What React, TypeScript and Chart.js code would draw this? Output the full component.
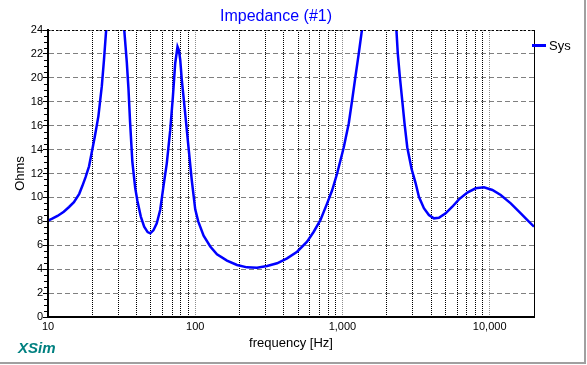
import { useEffect, useRef } from 'react';
import { Chart, registerables } from 'chart.js';

Chart.register(...registerables);

// ---- data ----
const frequencies = [
  10, 10.6, 11.6, 12.8, 13.9, 15.0, 16.3, 17.1, 18.0, 19.0, 20.0, 20.8, 22.0, 23.2, 24.0, 24.8,
  26.0, 28.0, 30.0, 32.0, 33.0, 34.3, 35.2, 36.1, 37.4, 39.1, 40.5, 42.7, 45.0, 47.5, 49.5, 52.0,
  54.8, 57.8, 60.8, 64.1, 67.6, 70.5, 73.1, 75.8, 77.5, 79.1, 81.1, 85.5, 90.0, 94.8, 100, 104.8,
  114, 126.5, 140.5, 164.3, 192.2, 224.8, 263, 307.6, 359.7, 420.7, 492, 575, 638, 708, 787, 851,
  920, 1021, 1104, 1164, 1225, 1291, 1346, 1500, 1800, 2100, 2328, 2376, 2453, 2545, 2640, 2755,
  2946, 3139, 3306, 3574, 3865, 4180, 4520, 5020, 5575, 6185, 7050, 8030, 9150, 10430, 11880,
  13900, 16260, 18040, 20000,
];
const impedance = [
  8.05, 8.2, 8.45, 8.8, 9.2, 9.6, 10.3, 10.95, 11.7, 12.6, 14.0, 15.1, 16.8, 19.3, 21.5, 23.9,
  28, 33, 31, 26.5, 23.9, 21.3, 19.1, 16.3, 13.0, 10.8, 9.7, 8.4, 7.55, 7.1, 7.0, 7.25,
  7.83, 8.95, 10.9, 12.85, 15.6, 18.4, 21.2, 22.6, 22.3, 21.5, 19.8, 17.0, 14.2, 11.4, 9.0, 8.0,
  6.8, 5.9, 5.25, 4.72, 4.35, 4.15, 4.12, 4.26, 4.49, 4.9, 5.46, 6.3, 7.13, 8.1, 9.5, 10.6,
  12.0, 14.2, 16.2, 18.15, 20.1, 22.05, 23.7, 28, 31, 28, 23.9, 22.05, 20.1, 18.15, 16.2, 14.2,
  12.4, 11.2, 10.05, 9.1, 8.53, 8.25, 8.3, 8.67, 9.22, 9.84, 10.4, 10.76, 10.85, 10.62, 10.2,
  9.5, 8.67, 8.1, 7.55,
];
const seriesLabel = 'Sys';
const chartTitle = 'Impedance (#1)';
const xTitle = 'frequency [Hz]';
const yTitle = 'Ohms';
const brandText = 'XSim';
const xMin = 10;
const xMax = 20000;
const yMin = 0;
const yMax = 24;
const yStep = 2;
const yMinorStep = 0.5;
const xLabelValues = [10, 100, 1000, 10000];
const xLabelTexts = ['10', '100', '1,000', '10,000'];
const xGridValues = [
  10, 20, 30, 40, 50, 60, 70, 80, 90,
  100, 200, 300, 400, 500, 600, 700, 800, 900,
  1000, 2000, 3000, 4000, 5000, 6000, 7000, 8000, 9000,
  10000, 20000,
];

const FONT = '"Liberation Sans", Arial, sans-serif';
const LINE_BLUE = '#0000ff';

const isDecade = (v: number | undefined) => {
  if (!v) return false;
  const l = Math.log10(v);
  return Math.abs(l - Math.round(l)) < 1e-9;
};

export default function App() {
  const ref = useRef<HTMLCanvasElement>(null);

  useEffect(() => {
    document.body.style.margin = '0';
    const canvas = ref.current;
    if (!canvas) return;

    const decorations = {
      id: 'decorations',
      afterDraw(chart: any) {
        const { ctx, chartArea: a, scales } = chart;
        ctx.save();
        // top border (dotted black) and right border (solid)
        ctx.strokeStyle = '#000';
        ctx.lineWidth = 1;
        ctx.setLineDash([2, 2]);
        ctx.beginPath();
        ctx.moveTo(a.left, a.top + 0.5);
        ctx.lineTo(a.right, a.top + 0.5);
        ctx.stroke();
        ctx.setLineDash([]);
        ctx.beginPath();
        ctx.moveTo(a.right + 0.5, a.top);
        ctx.lineTo(a.right + 0.5, a.bottom + 1);
        ctx.stroke();

        // minor ticks on the y axis
        const ys = scales.y;
        ctx.beginPath();
        for (let v = ys.min + yMinorStep; v < ys.max; v += yMinorStep) {
          if (Math.abs(v / yStep - Math.round(v / yStep)) < 1e-9) continue;
          const py = Math.round(ys.getPixelForValue(v)) + 0.5;
          ctx.moveTo(a.left - 4, py);
          ctx.lineTo(a.left, py);
        }
        ctx.stroke();

        // legend
        const ds = chart.data.datasets[0];
        ctx.strokeStyle = ds.borderColor;
        ctx.lineWidth = 3;
        ctx.beginPath();
        ctx.moveTo(532, 45.5);
        ctx.lineTo(546, 45.5);
        ctx.stroke();
        ctx.fillStyle = '#000';
        ctx.font = `13px ${FONT}`;
        ctx.textAlign = 'left';
        ctx.textBaseline = 'middle';
        ctx.fillText(ds.label, 549, 46);

        // title
        ctx.fillStyle = '#0000ff';
        ctx.font = `16px ${FONT}`;
        ctx.textAlign = 'center';
        ctx.textBaseline = 'middle';
        ctx.fillText(chartTitle, 276, 17);

        // brand
        ctx.fillStyle = '#008080';
        ctx.font = `italic bold 15px ${FONT}`;
        ctx.textAlign = 'left';
        ctx.textBaseline = 'alphabetic';
        ctx.fillText(brandText, 18, 353);

        // window frame (right and bottom)
        ctx.fillStyle = '#a0a0a0';
        ctx.fillRect(584, 0, 2, 364);
        ctx.fillRect(0, 362, 586, 2);
        ctx.restore();
      },
    };

    const chart = new Chart(canvas, {
      type: 'line',
      data: {
        datasets: [
          {
            label: seriesLabel,
            data: frequencies.map((f, i) => ({ x: f, y: impedance[i] })),
            borderColor: LINE_BLUE,
            borderWidth: 2.5,
            pointRadius: 0,
            tension: 0,
            clip: 0,
          } as any,
        ],
      },
      options: {
        responsive: false,
        animation: false,
        layout: { padding: { top: 30, right: 53, left: 0, bottom: 0 } },
        plugins: {
          legend: { display: false },
          title: { display: false },
          tooltip: { enabled: false },
        },
        scales: {
          x: {
            type: 'logarithmic',
            min: xMin,
            max: xMax,
            afterBuildTicks: (s: any) => {
              s.ticks = xGridValues.map((v) => ({ value: v, major: isDecade(v) }));
            },
            afterFit: (s: any) => {
              s.height = 48;
            },
            ticks: {
              autoSkip: false,
              maxRotation: 0,
              minRotation: 0,
              padding: 3,
              color: '#000',
              font: { family: FONT, size: 11 },
              callback: (v: any) => {
                const i = xLabelValues.indexOf(Number(v));
                return i >= 0 ? xLabelTexts[i] : '';
              },
            },
            grid: {
              drawTicks: false,
              lineWidth: 1,
              color: (c: any) => (isDecade(c.tick?.value) ? '#8c8c8c' : '#000000'),
            },
            border: { display: true, color: '#000', width: 2, dash: [1, 1], z: 1 },
            title: {
              display: true,
              text: xTitle,
              color: '#000',
              font: { family: FONT, size: 13 },
              padding: { top: 0, bottom: 14 },
            },
          },
          y: {
            type: 'linear',
            min: yMin,
            max: yMax,
            afterFit: (s: any) => {
              s.width = 48;
            },
            ticks: {
              stepSize: yStep,
              padding: 0,
              color: '#000',
              font: { family: FONT, size: 11 },
            },
            grid: {
              color: '#808080',
              lineWidth: 1,
              drawTicks: true,
              tickLength: 5,
              tickColor: '#000',
              tickBorderDash: [],
            },
            border: { display: true, color: '#000', width: 2, dash: [5, 3], z: 1 },
            title: {
              display: true,
              text: yTitle,
              color: '#000',
              font: { family: FONT, size: 13 },
              padding: { top: 13, bottom: 0 },
            },
          },
        },
      } as any,
      plugins: [decorations],
    });

    return () => {
      chart.destroy();
    };
  }, []);

  return (
    <div style={{ width: 587, height: 365, background: '#ffffff' }}>
      <canvas ref={ref} width={587} height={365} style={{ display: 'block' }} />
    </div>
  );
}
